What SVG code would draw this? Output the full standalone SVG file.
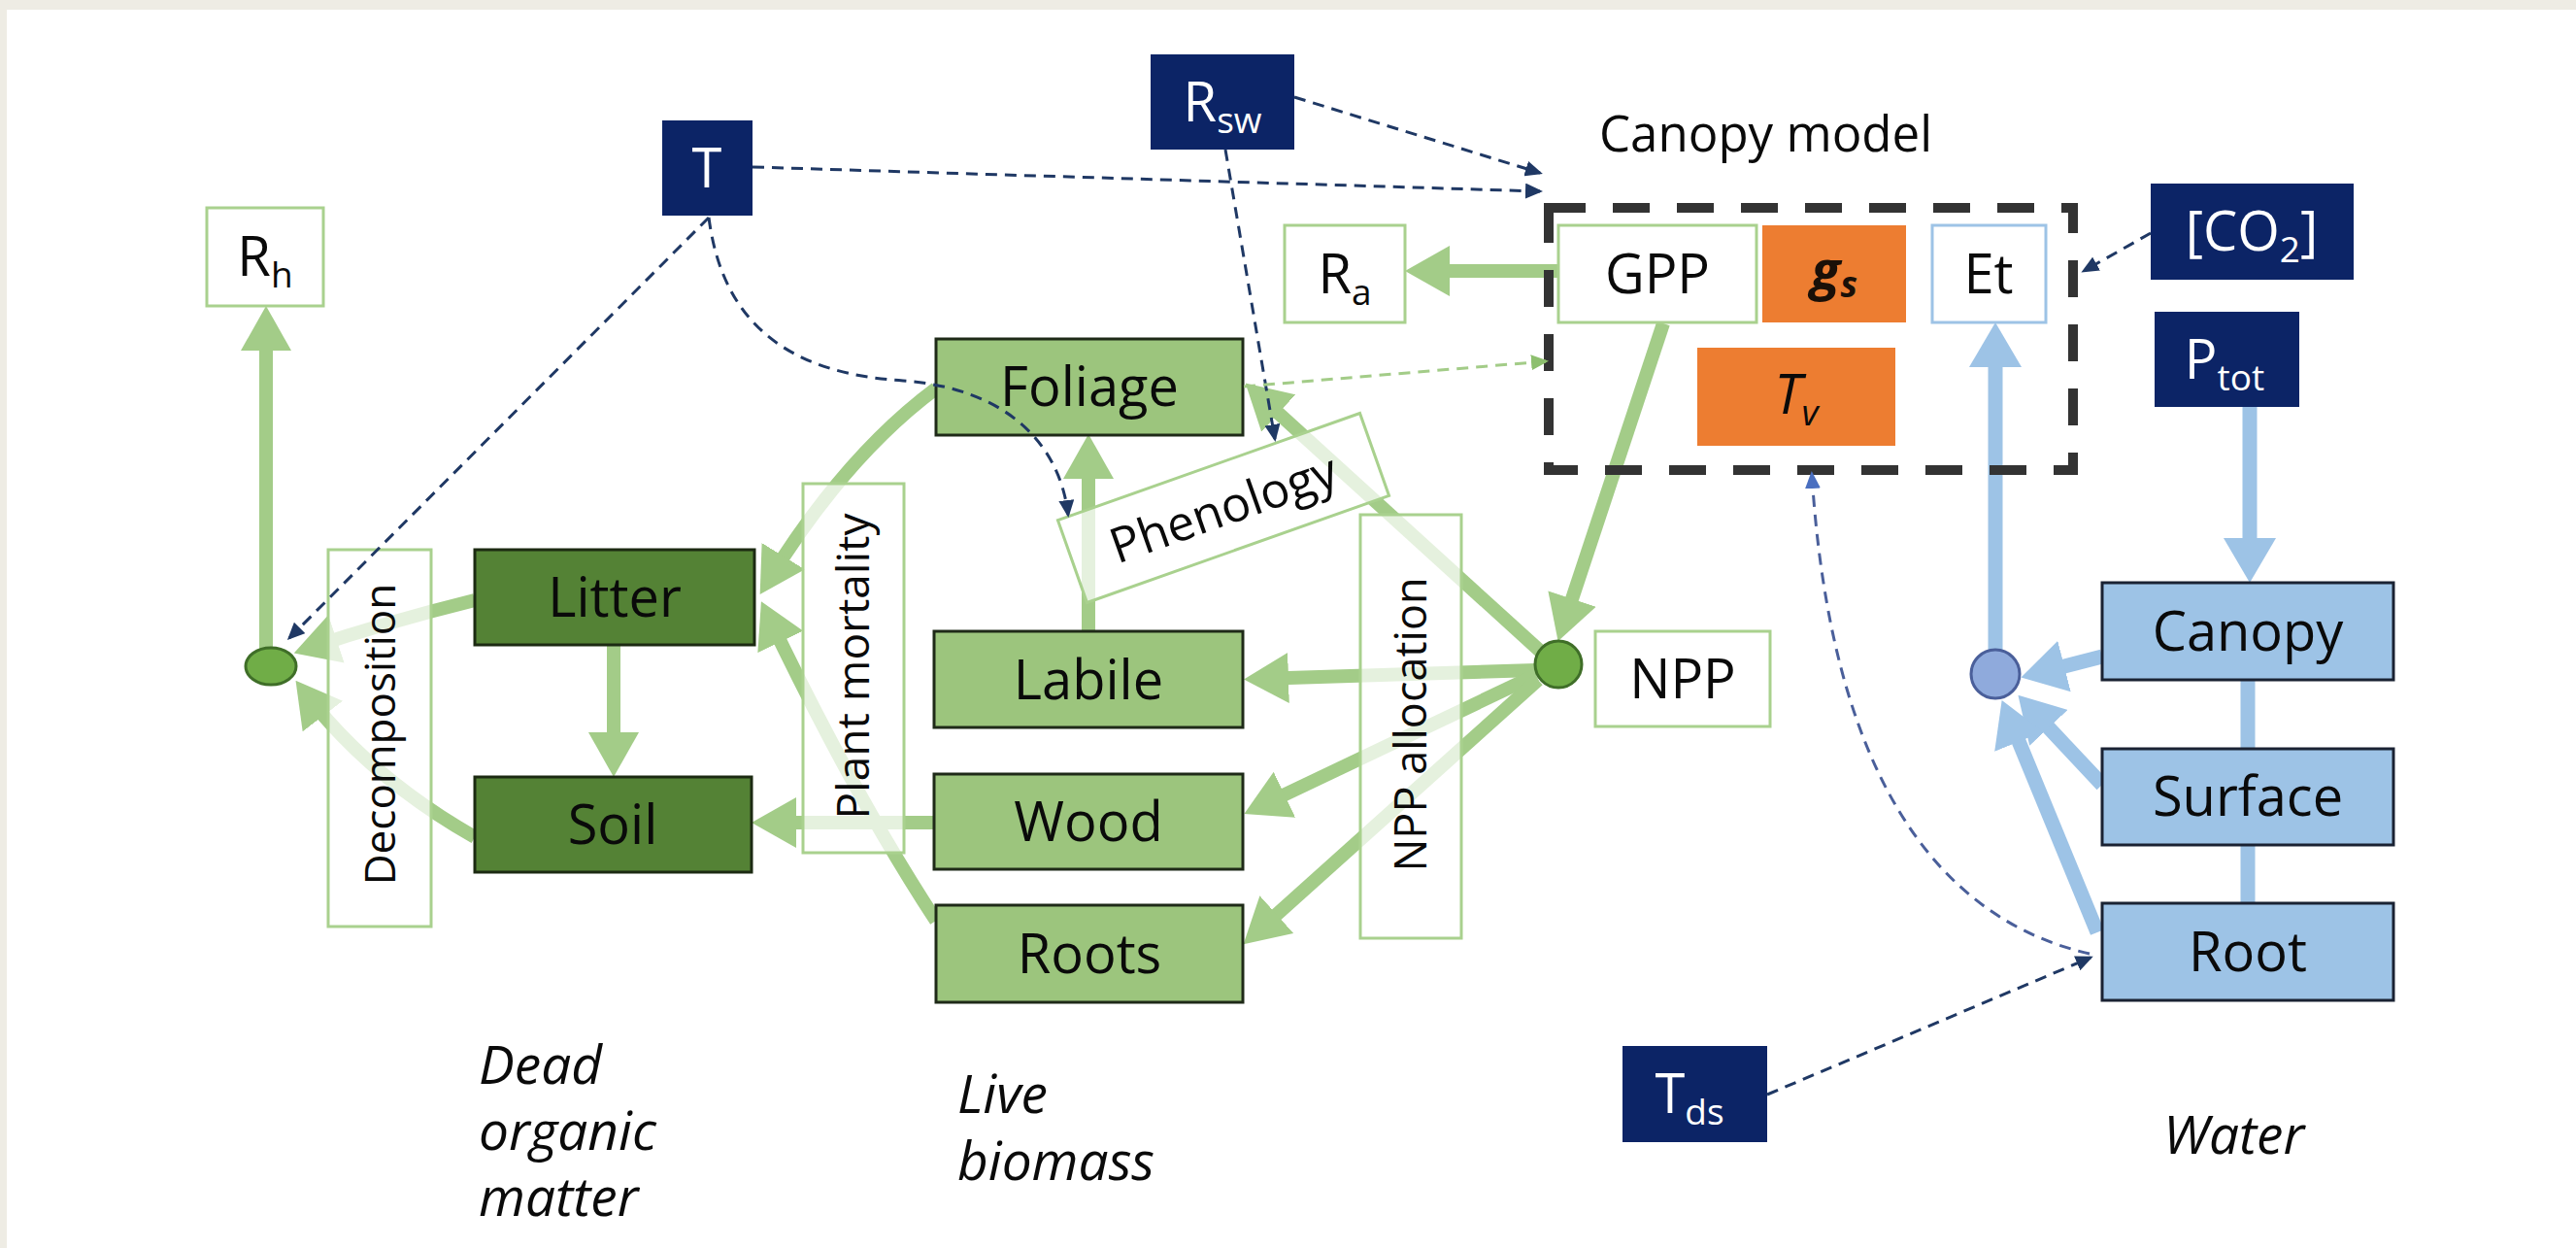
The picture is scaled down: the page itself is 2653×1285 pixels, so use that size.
<svg xmlns="http://www.w3.org/2000/svg" width="2653" height="1285" viewBox="0 0 2653 1285">
<defs>
<style>
text{font-family:"Open Sans","Noto Sans","Liberation Sans",sans-serif;fill:#0a0a0a;font-weight:500;}
.lbl{font-size:56px;text-anchor:middle;}
.wt{fill:#fff;}
.sub{font-size:37px;}
.it{font-style:italic;font-size:55px;}
.bi{font-weight:bold;font-style:italic;fill:#1a1008;}
.navy{fill:#0C2466;stroke:none;}
.lg{fill:#9CC57D;stroke:#1f2a18;stroke-width:3;}
.dg{fill:#548235;stroke:#1c2a12;stroke-width:3;}
.wb{fill:#fff;stroke:#A9D18E;stroke-width:3;}
.ann{fill:#fff;fill-opacity:0.72;stroke:#A9D18E;stroke-width:3;}
.bl{fill:#9DC3E6;stroke:#1a2233;stroke-width:3;}
.or{fill:#ED7D31;stroke:none;}
.flow{fill:none;stroke:#A3CC88;stroke-width:14;}
.wflow{fill:none;stroke:#9DC3E6;stroke-width:15;}
.ctrl{fill:none;stroke:#1F3864;stroke-width:3;stroke-dasharray:12 8;}
.gctrl{fill:none;stroke:#A3CC88;stroke-width:3;stroke-dasharray:12 8;}
.bctrl{fill:none;stroke:#4A5F9A;stroke-width:3;stroke-dasharray:12 8;}
</style>
<marker id="gh" markerUnits="userSpaceOnUse" markerWidth="46" markerHeight="52" refX="32" refY="26" orient="auto"><path d="M0,0 L46,26 L0,52 z" fill="#A3CC88"/></marker>
<marker id="bh" markerUnits="userSpaceOnUse" markerWidth="46" markerHeight="54" refX="32" refY="27" orient="auto"><path d="M0,0 L46,27 L0,54 z" fill="#9DC3E6"/></marker>
<marker id="nh" markerUnits="userSpaceOnUse" markerWidth="18" markerHeight="16" refX="15" refY="8" orient="auto"><path d="M0,0 L18,8 L0,16 z" fill="#1F3864"/></marker>
<marker id="ngh" markerUnits="userSpaceOnUse" markerWidth="18" markerHeight="16" refX="15" refY="8" orient="auto"><path d="M0,0 L18,8 L0,16 z" fill="#8DBF6E"/></marker>
<marker id="nbh" markerUnits="userSpaceOnUse" markerWidth="18" markerHeight="16" refX="15" refY="8" orient="auto"><path d="M0,0 L18,8 L0,16 z" fill="#4A6FC0"/></marker>
</defs>
<rect x="0" y="0" width="2653" height="1285" fill="#fff"/>
<rect x="0" y="0" width="2653" height="10" fill="#EEECE4"/>
<rect x="0" y="0" width="7" height="1285" fill="#EEECE4"/>

<g id="connectors">
<path class="flow" d="M274,668 L274,329" marker-end="url(#gh)"/>
<path class="flow" d="M1605,279 L1461,279" marker-end="url(#gh)"/>
<path class="flow" d="M1713,333 L1609,647" marker-end="url(#gh)"/>
<path class="flow" d="M1582,690 L1295,699" marker-end="url(#gh)"/>
<path class="flow" d="M1582,695 L1294,832" marker-end="url(#gh)"/>
<path class="flow" d="M1584,700 L1291,963" marker-end="url(#gh)"/>
<path class="flow" d="M1588,672 L1293,404" marker-end="url(#gh)"/>
<path class="flow" d="M1121,650 L1121,461" marker-end="url(#gh)"/>
<path class="flow" d="M964,400 Q870,470 790,600" marker-end="url(#gh)"/>
<path class="flow" d="M964,948 Q880,820 790,632" marker-end="url(#gh)"/>
<path class="flow" d="M962,847 L788,847" marker-end="url(#gh)"/>
<path class="flow" d="M632,664 L632,786" marker-end="url(#gh)"/>
<path class="flow" d="M489,618 Q400,640 316,668" marker-end="url(#gh)"/>
<path class="flow" d="M489,862 Q380,800 313,712" marker-end="url(#gh)"/>
<path class="wflow" d="M2317,419 L2317,586" marker-end="url(#bh)"/>
<path class="wflow" d="M2315,700 L2315,771 M2315,870 L2315,930"/>
<path class="wflow" d="M2055,669 L2055,346" marker-end="url(#bh)"/>
<path class="wflow" d="M2165,676 L2095,694" marker-end="url(#bh)"/>
<path class="wflow" d="M2165,808 L2088,726" marker-end="url(#bh)"/>
<path class="wflow" d="M2160,960 L2067,734" marker-end="url(#bh)"/>
</g>

<g id="node-Rh"><rect class="wb" x="213" y="214" width="120" height="101"/><text class="lbl" x="273" y="284">R<tspan class="sub" dy="12">h</tspan></text></g>
<g id="node-T"><rect class="navy" x="682" y="124" width="93" height="98"/><text class="lbl wt" x="728" y="193">T</text></g>
<g id="node-Rsw"><rect class="navy" x="1185" y="56" width="148" height="98"/><text class="lbl wt" x="1259" y="125">R<tspan class="sub wt" dy="12">sw</tspan></text></g>
<g id="node-CanopyModel"><rect x="1595" y="214" width="540" height="270" fill="none" stroke="#333" stroke-width="10" stroke-dasharray="38 28"/><text x="1647" y="156" font-size="51">Canopy model</text></g>
<g id="node-Ra"><rect class="wb" x="1323" y="232" width="124" height="100"/><text class="lbl" x="1385" y="302">R<tspan class="sub" dy="12">a</tspan></text></g>
<g id="node-GPP"><rect class="wb" x="1605" y="232" width="204" height="100"/><text class="lbl" x="1707" y="302">GPP</text></g>
<g id="node-gs"><rect class="or" x="1815" y="232" width="148" height="100"/><text class="lbl bi" x="1889" y="298">g<tspan class="sub" dy="8">s</tspan></text></g>
<g id="node-Et"><rect x="1990" y="232" width="117" height="100" fill="#fff" stroke="#9DC3E6" stroke-width="3"/><text class="lbl" x="2048" y="302">Et</text></g>
<g id="node-Tv"><rect class="or" x="1748" y="358" width="204" height="101"/><text class="lbl" x="1850" y="426" font-style="italic" fill="#1a1008">T<tspan class="sub" dy="12">v</tspan></text></g>
<g id="node-CO2"><rect class="navy" x="2215" y="189" width="209" height="99"/><text class="lbl wt" x="2319" y="258">[CO<tspan class="sub wt" dy="12">2</tspan><tspan dy="-12">]</tspan></text></g>
<g id="node-Ptot"><rect class="navy" x="2219" y="321" width="149" height="98"/><text class="lbl wt" x="2291" y="390">P<tspan class="sub wt" dy="12">tot</tspan></text></g>
<g id="node-Foliage"><rect class="lg" x="964" y="349" width="316" height="99"/><text class="lbl" x="1122" y="418">Foliage</text></g>
<g id="node-Labile"><rect class="lg" x="962" y="650" width="318" height="99"/><text class="lbl" x="1121" y="720">Labile</text></g>
<g id="node-Wood"><rect class="lg" x="962" y="797" width="318" height="98"/><text class="lbl" x="1121" y="866">Wood</text></g>
<g id="node-Roots"><rect class="lg" x="964" y="932" width="316" height="100"/><text class="lbl" x="1122" y="1002">Roots</text></g>
<g id="node-Litter"><rect class="dg" x="489" y="566" width="288" height="98"/><text class="lbl" x="633" y="635">Litter</text></g>
<g id="node-Soil"><rect class="dg" x="489" y="800" width="285" height="98"/><text class="lbl" x="631" y="869">Soil</text></g>
<g id="node-Decomposition"><rect class="ann" x="338" y="566" width="106" height="388"/><text transform="translate(391,756) rotate(-90)" x="0" y="16" font-size="44" text-anchor="middle">Decomposition</text></g>
<g id="node-PlantMortality"><rect class="ann" x="827" y="498" width="104" height="380"/><text transform="translate(879,686) rotate(-90)" x="0" y="16" font-size="46" text-anchor="middle">Plant mortality</text></g>
<g id="node-NPPallocation"><rect class="ann" x="1401" y="530" width="104" height="436"/><text transform="translate(1453,746) rotate(-90)" x="0" y="16" font-size="45" text-anchor="middle">NPP allocation</text></g>
<g id="node-Phenology" transform="translate(1260,523) rotate(-19.5)"><rect class="ann" x="-165" y="-45" width="330" height="90"/><text x="0" y="18" font-size="50" text-anchor="middle">Phenology</text></g>
<g id="node-NPPcircle"><circle cx="1605" cy="684" r="24" fill="#70AD47" stroke="#3f6e28" stroke-width="3"/></g>
<g id="node-NPP"><rect class="wb" x="1643" y="650" width="180" height="98"/><text class="lbl" x="1733" y="719">NPP</text></g>
<g id="node-RhCircle"><ellipse cx="279" cy="686" rx="26" ry="19" fill="#70AD47" stroke="#3f6e28" stroke-width="3"/></g>
<g id="node-WaterCircle"><circle cx="2055" cy="694" r="25" fill="#8FAADC" stroke="#4A5F9A" stroke-width="3"/></g>
<g id="node-Canopy"><rect class="bl" x="2165" y="600" width="300" height="100"/><text class="lbl" x="2315" y="670">Canopy</text></g>
<g id="node-Surface"><rect class="bl" x="2165" y="771" width="300" height="99"/><text class="lbl" x="2315" y="840">Surface</text></g>
<g id="node-Root"><rect class="bl" x="2165" y="930" width="300" height="100"/><text class="lbl" x="2315" y="1000">Root</text></g>
<g id="node-Tds"><rect class="navy" x="1671" y="1077" width="149" height="99"/><text class="lbl wt" x="1740" y="1146">T<tspan class="sub wt" dy="12">ds</tspan></text></g>
<g id="label-Dead"><text class="it" x="493" y="1116">Dead</text><text class="it" x="493" y="1184">organic</text><text class="it" x="493" y="1252">matter</text></g>
<g id="label-Live"><text class="it" x="986" y="1146">Live</text><text class="it" x="986" y="1215">biomass</text></g>
<g id="label-Water"><text class="it" x="2228" y="1188">Water</text></g>

<g id="connectors-dashed">
<path class="ctrl" d="M730,224 L298,657" marker-end="url(#nh)"/>
<path class="ctrl" d="M730,224 C745,340 820,385 930,392 C1040,400 1092,460 1100,530" marker-end="url(#nh)"/>
<path class="ctrl" d="M775,172 L1586,197" marker-end="url(#nh)"/>
<path class="ctrl" d="M1333,100 L1586,178" marker-end="url(#nh)"/>
<path class="ctrl" d="M1262,154 L1313,452" marker-end="url(#nh)"/>
<path class="ctrl" d="M2215,240 L2146,279" marker-end="url(#nh)"/>
<path class="ctrl" d="M1820,1127 L2153,986" marker-end="url(#nh)"/>
<path class="bctrl" d="M2152,982 C1990,945 1885,790 1866,488" marker-end="url(#nbh)"/>
<path class="gctrl" d="M1281,398 L1592,372" marker-end="url(#ngh)"/>
</g>
</svg>
